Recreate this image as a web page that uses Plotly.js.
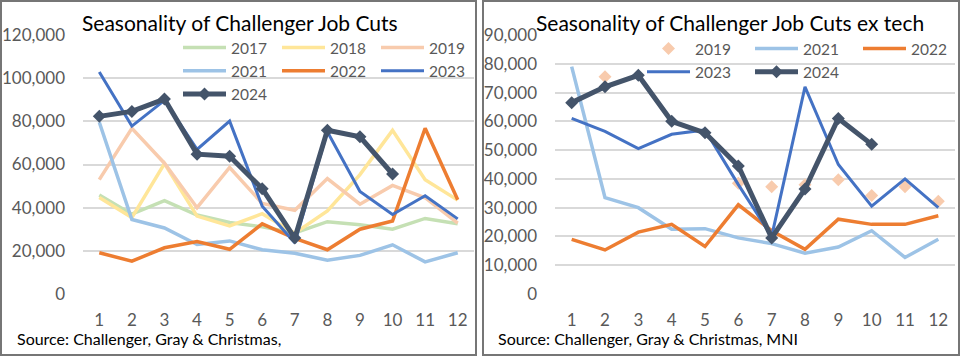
<!DOCTYPE html>
<html>
<head>
<meta charset="utf-8">
<script src="https://cdn.plot.ly/plotly-3.0.1.min.js"></script>
<style>html,body{margin:0;padding:0;background:#fff;}#chart{width:960px;height:357px;}</style>
</head>
<body>
<div id="chart"></div>
<script>
// ---- Data ----
const months = [1,2,3,4,5,6,7,8,9,10,11,12];

// Left: Challenger job cuts (total)
const total2017 = [45900, 37000, 43300, 36600, 33100, 31100, 28300, 33500, 32100, 30000, 35000, 32500];
const total2018 = [44700, 35400, 60400, 36100, 31500, 37200, 28200, 38500, 55300, 75800, 53000, 43500];
const total2019 = [53000, 76800, 60600, 40000, 58600, 42000, 38800, 53500, 41600, 50300, 44600, 32800];
const total2021 = [79600, 34500, 30600, 22900, 24600, 20500, 18900, 15700, 17900, 22800, 14900, 19100];
const total2022 = [19100, 15200, 21400, 24300, 20700, 32500, 25800, 20500, 30000, 33800, 76800, 43700];
const total2023 = [102900, 77800, 89700, 67000, 80100, 40700, 23700, 75200, 47500, 36800, 45500, 34800];
const total2024 = [82300, 84600, 90300, 64800, 63800, 48800, 25900, 75900, 72800, 55600, null, null];

// Right: Challenger job cuts ex tech
const exTech2019 = [null, 75500, null, null, null, 38500, 37300, 38000, 39700, 34200, 37300, 32200];
const exTech2021 = [79000, 33500, 30000, 22500, 22700, 19500, 17500, 14200, 16300, 22000, 12700, 19000];
const exTech2022 = [19000, 15300, 21500, 24200, 16500, 31000, 22000, 15500, 26000, 24200, 24200, 27200];
const exTech2023 = [61000, 56500, 50500, 55500, 57000, 38000, 20000, 72000, 45000, 30500, 40000, 30000];
const exTech2024 = [66500, 72000, 76000, 60000, 56000, 44500, 19500, 36500, 61000, 52000, null, null];

const leftTickVals = [0, 20000, 40000, 60000, 80000, 100000, 120000];
const rightTickVals = [0, 10000, 20000, 30000, 40000, 50000, 60000, 70000, 80000, 90000];

// ---- Styles ----
const W = 960, H = 357;
const FONT = 'Lato, "Open Sans", sans-serif';
const C = {
  y2017: '#c5e0b4', y2018: '#ffe699', y2019: '#f8cbad', y2021: '#9dc3e6',
  y2022: '#ed7d31', y2023: '#4472c4', y2024: '#44546a'
};

// legend column groups (used only to lay the legend out in 3 columns)
function ln(x, y, name, color, width, axes, legend, group, extra) {
  return Object.assign({
    x: x, y: y, name: name, type: 'scatter', mode: 'lines',
    line: {color: color, width: width},
    xaxis: axes[0], yaxis: axes[1], legend: legend, legendgroup: group,
    connectgaps: false, hoverinfo: 'skip'
  }, extra || {});
}

const L = ['x', 'y'], R = ['x2', 'y2'];
const diamond = color => ({symbol: 'diamond', size: 10, color: color});
const data = [
  ln(months, total2017, '2017', C.y2017, 3.5, L, 'legend', 'L1'),
  ln(months, total2018, '2018', C.y2018, 3.5, L, 'legend', 'L2'),
  ln(months, total2019, '2019', C.y2019, 3.5, L, 'legend', 'L3'),
  ln(months, total2021, '2021', C.y2021, 3.5, L, 'legend', 'L1'),
  ln(months, total2022, '2022', C.y2022, 3.5, L, 'legend', 'L2'),
  ln(months, total2023, '2023', C.y2023, 3, L, 'legend', 'L3'),
  ln(months, total2024, '2024', C.y2024, 5, L, 'legend', 'L1',
     {mode: 'lines+markers', marker: diamond(C.y2024)}),

  ln(months, exTech2019, '2019', C.y2019, 0, R, 'legend2', 'R1',
     {mode: 'markers', marker: diamond(C.y2019)}),
  ln(months, exTech2021, '2021', C.y2021, 3.5, R, 'legend2', 'R2'),
  ln(months, exTech2022, '2022', C.y2022, 3.5, R, 'legend2', 'R3'),
  ln(months, exTech2023, '2023', C.y2023, 3, R, 'legend2', 'R1'),
  ln(months, exTech2024, '2024', C.y2024, 5, R, 'legend2', 'R2',
     {mode: 'lines+markers', marker: diamond(C.y2024)})
];

const yDom = [(H - 294) / H, (H - 35) / H];
const tickFont = {family: FONT, size: 17, color: '#595959'};

function xAxis(x0, x1, anchor) {
  return {
    domain: [x0 / W, x1 / W], anchor: anchor, range: [0.5, 12.5],
    tickmode: 'array', tickvals: months, ticktext: months.map(String),
    showgrid: false, zeroline: false, showline: false, ticks: '',
    ticklabelstandoff: 14, tickfont: tickFont, fixedrange: true
  };
}
function yAxis(max, vals, anchor) {
  return {
    domain: yDom, anchor: anchor, range: [0, max],
    tickmode: 'array', tickvals: vals, tickformat: ',d',
    showgrid: true, gridcolor: '#d9d9d9', gridwidth: 2,
    zeroline: false, showline: false, ticks: '',
    ticklabelstandoff: 17, tickfont: tickFont, fixedrange: true
  };
}

const ITEMW = 43;                   // legend symbol width
const PITCH_EXTRA = ITEMW + 10 + 5; // textGap + itemGap added by plotly
const legendBase = {
  orientation: 'h', bgcolor: 'rgba(0,0,0,0)', borderwidth: 0,
  font: {family: FONT, size: 15.5, color: '#595959'},
  xanchor: 'left', yanchor: 'top', entrywidthmode: 'pixels', itemwidth: ITEMW,
  traceorder: 'grouped', tracegroupgap: 0
};

const layout = {
  width: W, height: H,
  margin: {l: 0, r: 0, t: 0, b: 0, autoexpand: false},
  paper_bgcolor: '#ffffff', plot_bgcolor: 'rgba(0,0,0,0)',
  showlegend: true,
  xaxis: xAxis(83, 474, 'y'),
  yaxis: yAxis(120000, leftTickVals, 'x'),
  xaxis2: xAxis(555, 955, 'y2'),
  yaxis2: yAxis(90000, rightTickVals, 'x2'),
  legend: Object.assign({}, legendBase, {x: 178 / W, y: (H - 31) / H, entrywidth: 99 - PITCH_EXTRA}),
  legend2: Object.assign({}, legendBase, {x: 642 / W, y: (H - 32) / H, entrywidth: 108 - PITCH_EXTRA}),
  shapes: [
    {type: 'rect', xref: 'paper', yref: 'paper', x0: 1 / W, x1: 476 / W, y0: (H - 355) / H, y1: (H - 1) / H,
     line: {color: '#767676', width: 2}, fillcolor: 'rgba(0,0,0,0)', layer: 'above'},
    {type: 'rect', xref: 'paper', yref: 'paper', x0: 483 / W, x1: 959 / W, y0: (H - 355) / H, y1: (H - 1) / H,
     line: {color: '#767676', width: 2}, fillcolor: 'rgba(0,0,0,0)', layer: 'above'}
  ],
  annotations: [
    {text: 'Seasonality of Challenger Job Cuts', xref: 'paper', yref: 'paper',
     x: 240 / W, y: (H - 23) / H, xanchor: 'center', yanchor: 'middle', showarrow: false,
     font: {family: FONT, size: 21, color: '#000000'}},
    {text: 'Seasonality of Challenger Job Cuts ex tech', xref: 'paper', yref: 'paper',
     x: 730 / W, y: (H - 23) / H, xanchor: 'center', yanchor: 'middle', showarrow: false,
     font: {family: FONT, size: 21, color: '#000000'}},
    {text: 'Source: Challenger, Gray & Christmas,', xref: 'paper', yref: 'paper',
     x: 15 / W, y: (H - 338) / H, xanchor: 'left', yanchor: 'middle', showarrow: false,
     font: {family: FONT, size: 16, color: '#000000'}},
    {text: 'Source: Challenger, Gray & Christmas, MNI', xref: 'paper', yref: 'paper',
     x: 496 / W, y: (H - 338) / H, xanchor: 'left', yanchor: 'middle', showarrow: false,
     font: {family: FONT, size: 16, color: '#000000'}}
  ]
};

Plotly.newPlot('chart', data, layout, {staticPlot: true, displayModeBar: false});
</script>
</body>
</html>
